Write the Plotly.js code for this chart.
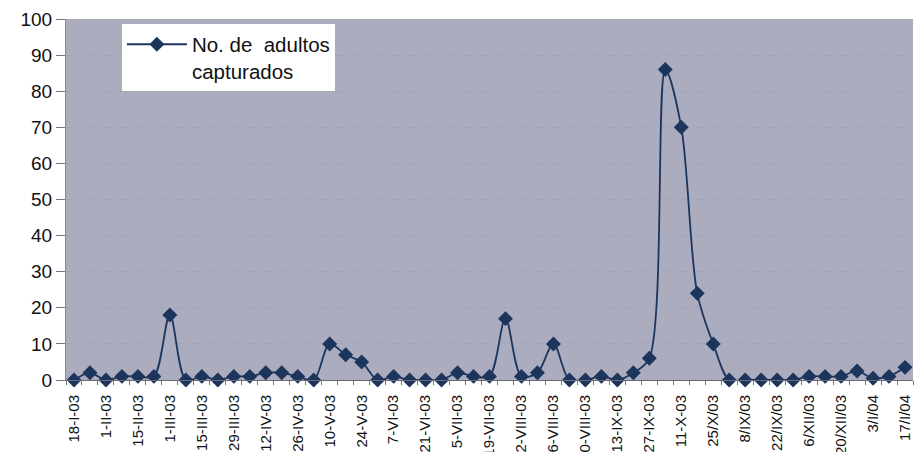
<!DOCTYPE html>
<html>
<head>
<meta charset="utf-8">
<script src="https://cdn.plot.ly/plotly-3.0.1.min.js"></script>
<style>html,body{margin:0;padding:0;background:#fff;}#chart{width:915px;height:452px;}</style>
</head>
<body>
<div id="chart"></div>
<script>
// weekly samples, 18-I-03 .. 17/I/04 (labels shown every second sample)
var tickLabels = ["18-I-03","1-II-03","15-II-03","1-III-03","15-III-03","29-III-03","12-IV-03","26-IV-03","10-V-03","24-V-03","7-VI-03","21-VI-03","5-VII-03","19-VII-03","2-VIII-03","16-VIII-03","30-VIII-03","13-IX-03","27-IX-03","11-X-03","25/X/03","8/IX/03","22/IX/03","6/XII/03","20/XII/03","3/I/04","17/I/04"];
var adultos = [0,2,0,1,1,1,18,0,1,0,1,1,2,2,1,0,10,7,5,0,1,0,0,0,2,1,1,17,1,2,10,0,0,1,0,2,6,86,70,24,10,0,0,0,0,0,1,1,1,2.5,0.5,1,3.5];
var seriesName = "No. de  adultos<br>capturados";

var sampleIdx = adultos.map(function(_, i){ return i; });
var tickIdx = tickLabels.map(function(_, i){ return i * 2; });

var navy = "#1c355c";
var font = "Liberation Sans, Arial, sans-serif";

var trace = {
  x: sampleIdx, y: adultos, type: "scatter", mode: "lines+markers",
  name: seriesName,
  line: {color: navy, width: 1.8, shape: "spline", smoothing: 0.9},
  marker: {symbol: "diamond", size: 11.5, color: navy},
  cliponaxis: false
};

var layout = {
  width: 915, height: 452,
  margin: {l: 66, r: 2, t: 19, b: 72, pad: 0},
  paper_bgcolor: "#ffffff",
  plot_bgcolor: "#acacbf",
  font: {family: font, color: "#111"},
  showlegend: true,
  legend: {
    x: 0.066, y: 0.985, xanchor: "left", yanchor: "top",
    bgcolor: "#ffffff", borderwidth: 0,
    font: {family: font, size: 20.5, color: "#111"},
    valign: "top", itemwidth: 60
  },
  xaxis: {
    range: [-0.5, adultos.length - 0.5],
    tickmode: "array", tickvals: tickIdx, ticktext: tickLabels,
    tickangle: -90, ticks: "", showgrid: false, zeroline: false,
    ticklabelstandoff: 8,
    showline: true, linecolor: "#6a6a78", linewidth: 1,
    tickfont: {family: font, size: 15, color: "#111"},
    minor: {ticks: "outside", tick0: -0.5, dtick: 1, ticklen: 4, tickcolor: "#777", showgrid: false},
    fixedrange: true
  },
  yaxis: {
    range: [0, 100], dtick: 10, tick0: 0,
    ticks: "outside", ticklen: 9, tickcolor: "#777",
    showline: true, linecolor: "#8a8a98", linewidth: 1,
    showgrid: true, gridcolor: "#a4a4b8", griddash: "dash", gridwidth: 1,
    zeroline: false,
    tickfont: {family: font, size: 19, color: "#111"},
    fixedrange: true
  }
};

Plotly.newPlot("chart", [trace], layout, {displayModeBar: false, staticPlot: true});
</script>
</body>
</html>
